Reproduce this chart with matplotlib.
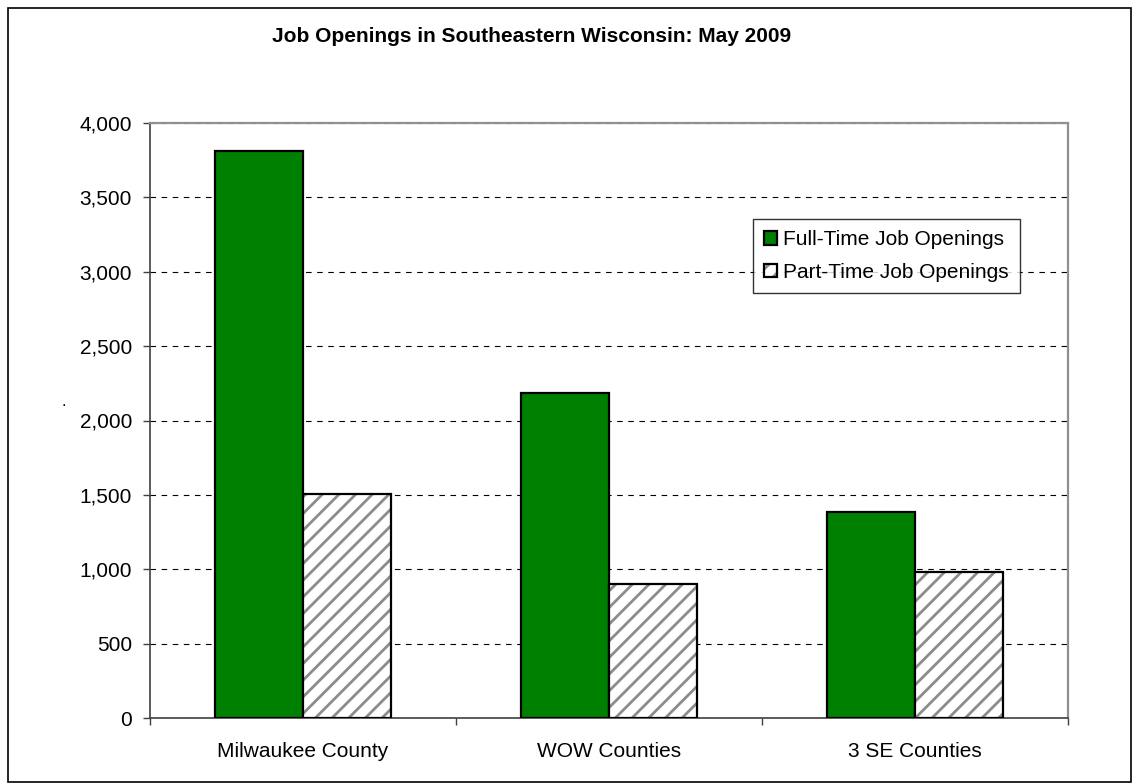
"""Job openings in Southeastern Wisconsin, May 2009 - grouped bar chart."""
import matplotlib.pyplot as plt
import numpy as np
from matplotlib.patches import Rectangle
from matplotlib.ticker import FuncFormatter

##########################
## Data

regions = ["Milwaukee County", "WOW Counties", "3 SE Counties"]
full_time = [3815, 2188, 1385]
part_time = [1505, 900, 980]
series_names = ["Full-Time Job Openings", "Part-Time Job Openings"]

##########################
## Plot

plt.rcParams["font.family"] = ["Liberation Sans", "DejaVu Sans"]
plt.rcParams["hatch.linewidth"] = 2.0

fig = plt.figure(figsize=(11.33, 7.83), dpi=100)
ax = fig.add_axes([150 / 1133, 1 - 718 / 783, 918 / 1133, 595 / 783])

x = np.arange(len(regions))
width = 0.2876

ax.bar(x - width / 2, full_time, width, color="#008000", edgecolor="black",
       linewidth=1.6, zorder=3)
hatched = ax.bar(x + width / 2, part_time, width, color="white", edgecolor="#8c8c8c",
                 hatch="//", linewidth=0, zorder=3)
outline = ax.bar(x + width / 2, part_time, width, fill=False, edgecolor="black",
                 linewidth=1.6, zorder=4)

ax.set_xlim(-0.5, len(regions) - 0.5)
ax.set_ylim(0, 4000)
ax.set_yticks(np.arange(0, 4001, 500))
ax.yaxis.set_major_formatter(FuncFormatter(lambda v, p: f"{int(v):,}"))
ax.set_xticks(x)
ax.set_xticklabels(regions)
ax.set_xticks(np.arange(-0.5, len(regions), 1), minor=True)

ax.tick_params(axis="y", length=5, width=1, color="#404040", pad=8, labelsize=15)
ax.tick_params(axis="x", which="major", length=0, pad=17, labelsize=15)
ax.tick_params(axis="x", which="minor", length=5, width=1, color="#404040")

ax.grid(axis="y", color="black", linestyle=(0, (5, 5)), linewidth=0.8, zorder=1)
for s in ["left", "bottom"]:
    ax.spines[s].set_color("#404040")
    ax.spines[s].set_linewidth(1.2)
for s in ["top", "right"]:
    ax.spines[s].set_color("#909090")
    ax.spines[s].set_linewidth(1.6)

leg = ax.legend(
    [ax.patches[0], (hatched[0], outline[0])], series_names,
    loc="upper left", bbox_to_anchor=(603 / 918, 1 - 96 / 595),
    fontsize=15, frameon=True, fancybox=False, edgecolor="black",
    handlelength=0.6, handleheight=0.6, handletextpad=0.3,
    borderpad=0.55, labelspacing=0.65, borderaxespad=0,
)
leg.get_frame().set_linewidth(1.0)

fig.text(532 / 1133, 1 - 37 / 783, "Job Openings in Southeastern Wisconsin: May 2009",
         ha="center", va="center", fontsize=15, fontweight="bold")
fig.text(64 / 1133, 1 - 402 / 783, ".", ha="center", va="center", fontsize=12)

# outer chart border
fig.patches.append(Rectangle((8 / 1133, 1 / 783), 1123 / 1133, 774 / 783,
                             transform=fig.transFigure, fill=False,
                             edgecolor="black", linewidth=1.2))

fig.savefig("out.png", dpi=100)
